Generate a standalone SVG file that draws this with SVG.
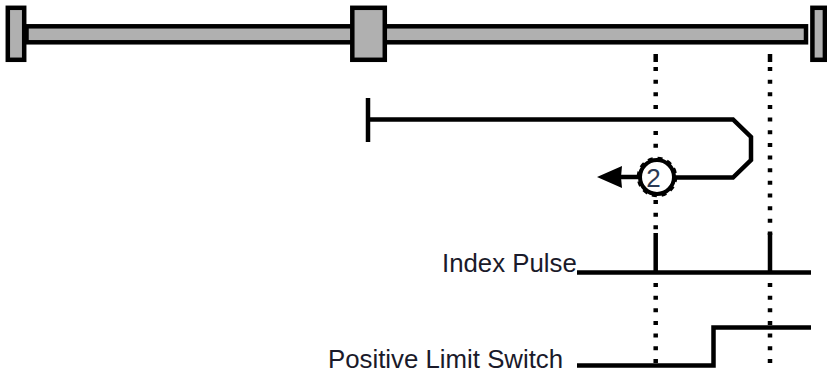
<svg xmlns="http://www.w3.org/2000/svg" width="827" height="372" viewBox="0 0 827 372">
<style>
.bar{fill:#b0b0b0;stroke:#000;stroke-width:4.5}
.ln{fill:none;stroke:#000;stroke-width:4.500}
.dot{fill:none;stroke:#000;stroke-width:4.500;stroke-dasharray:4 8.65}
.lab{font-family:"Liberation Sans",Arial,sans-serif;font-size:25.800px;fill:#1a1a2a}
</style>
<rect width="827" height="372" fill="#fff"/>
<g id="rail"><rect class="bar" x="26.5" y="26.3" width="779.5" height="16"/></g>
<g id="stop-left"><rect class="bar" x="7.8" y="7.8" width="16.4" height="52"/></g>
<g id="carriage"><rect class="bar" x="352.3" y="7.8" width="32.5" height="52"/></g>
<g id="stop-right"><rect class="bar" x="812.4" y="7.8" width="12.5" height="52"/></g>
<g id="connectors">
<path class="ln" d="M655.7 54V62M770 54V62"/>
<path class="dot" d="M655.7 67V110M655.7 131V154M655.7 200V235M770 67V235"/>
<path class="dot" d="M655.7 283V365M770 283V365"/>
<path class="ln" d="M368 98V142"/>
<path class="ln" d="M368 119.5H733L751 137V160L733 177.5H672"/>
<path class="ln" d="M640 177H618"/>
<path d="M597 177L622 166L621 177L622 188Z" fill="#000"/>
<path class="ln" d="M655.700 233V272M770 233V272"/>
<path class="ln" d="M577 272.500H811"/>
<path class="ln" d="M577 365.500H713.500V327.500H811"/>
</g>
<g id="step-2">
<circle cx="657" cy="177" r="17" fill="#fff" stroke="#000" stroke-width="4"/>
<circle cx="657" cy="177" r="19" fill="none" stroke="#000" stroke-width="2.500" stroke-dasharray="5 4.950"/>
<text x="653.500" y="187" text-anchor="middle" style="font-family:'Liberation Sans',Arial,sans-serif;font-size:26px;fill:#2a3a55">2</text>
</g>
<g id="labels">
<text class="lab" x="442" y="272">Index Pulse</text>
<text class="lab" x="328" y="368">Positive Limit Switch</text>
</g>
</svg>
